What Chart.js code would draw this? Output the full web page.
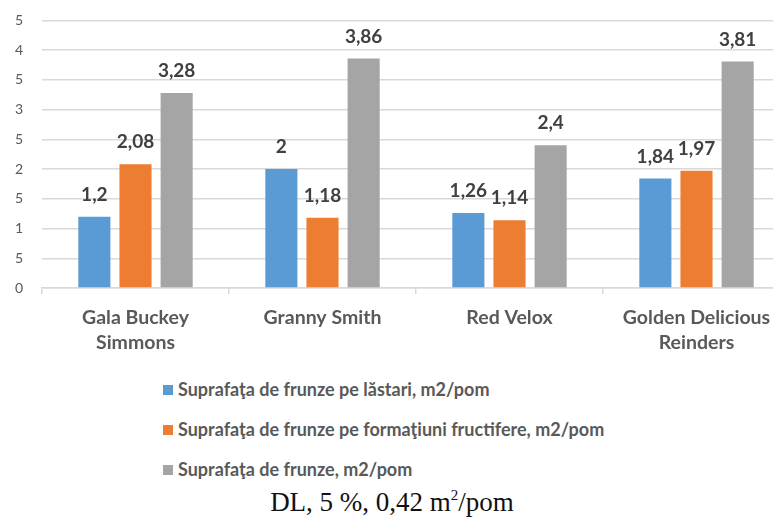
<!DOCTYPE html>
<html>
<head>
<meta charset="utf-8">
<script src="https://cdn.jsdelivr.net/npm/chart.js@4"></script>
<style>
  html, body { margin: 0; padding: 0; background: #fff; width: 773px; height: 518px; overflow: hidden; position: relative; }
  #wrap { position: absolute; left: 0; top: -7px; width: 800px; height: 363px; }
  #legend { position: absolute; left: 163px; top: 378px; font-family: Lato, "Open Sans", sans-serif; font-size: 18px; font-weight: 700; color: #595959; }
  .item { position: absolute; left: 0; white-space: nowrap; height: 22px; line-height: 22px; }
  .box { display: inline-block; width: 10px; height: 10px; margin-right: 5px; vertical-align: 1px; }
  #note { position: absolute; left: 0; width: 784px; top: 489px; line-height: 27px; text-align: center; font-family: "Liberation Serif", "Times New Roman", serif; font-size: 27px; color: #111; }
  #note sup { font-size: 15px; vertical-align: 11px; line-height: 0; }
</style>
</head>
<body>
<div id="wrap"><canvas id="c"></canvas></div>
<div id="legend"></div>
<div id="note">DL, 5 %, 0,42 m<sup>2</sup>/pom</div>
<script>
const categories = [["Gala Buckey", "Simmons"], ["Granny Smith"], ["Red Velox"], ["Golden Delicious", "Reinders"]];
const seriesNames = [
  "Suprafaţa de frunze pe lăstari, m2/pom",
  "Suprafaţa de frunze pe formaţiuni fructifere, m2/pom",
  "Suprafaţa de frunze, m2/pom"
];
const lastari = [1.2, 2, 1.26, 1.84];
const formatiuni = [2.08, 1.18, 1.14, 1.97];
const totalFrunze = [3.28, 3.86, 2.4, 3.81];
const yTickLabels = ["0", "5", "1", "5", "2", "5", "3", "5", "4", "5"];
const seriesColors = ["#5B9BD5", "#ED7D31", "#A5A5A5"];

const seriesData = [lastari, formatiuni, totalFrunze];

const dataLabels = {
  id: 'dataLabels',
  afterDatasetsDraw(chart) {
    const ctx = chart.ctx;
    ctx.save();
    ctx.font = 'bold 19px Lato, "Open Sans", sans-serif';
    ctx.fillStyle = '#404040';
    ctx.textAlign = 'center';
    ctx.textBaseline = 'middle';
    chart.data.datasets.forEach((ds, di) => {
      const meta = chart.getDatasetMeta(di);
      meta.data.forEach((el, i) => {
        const txt = String(ds.data[i]).replace('.', ',');
        ctx.fillText(txt, el.x, el.y - 22);
      });
    });
    ctx.restore();
  }
};

const chart = new Chart(document.getElementById('c'), {
  type: 'bar',
  data: {
    labels: categories,
    datasets: seriesData.map((d, i) => ({
      label: seriesNames[i],
      data: d,
      backgroundColor: seriesColors[i],
      borderWidth: 0,
      categoryPercentage: 0.66,
      barPercentage: 0.78
    }))
  },
  options: {
    responsive: true,
    maintainAspectRatio: false,
    animation: false,
    layout: { autoPadding: false, padding: { top: 4, right: 10, left: 0, bottom: 0 } },
    plugins: { legend: { display: false }, tooltip: { enabled: false } },
    scales: {
      x: {
        offset: true,
        grid: { offset: true, drawOnChartArea: false, drawTicks: true, tickLength: 6, color: '#D9D9D9', lineWidth: 1.5 },
        border: { display: true, color: '#D9D9D9', width: 1.5 },
        ticks: { color: '#595959', padding: 11, maxRotation: 0, autoSkip: false, font: { family: 'Lato, "Open Sans", sans-serif', size: 19.5, weight: 'bold', lineHeight: 1.28 } },
        afterFit(s) { s.height = 68; }
      },
      y: {
        min: 0, max: 4.5,
        ticks: { stepSize: 0.5, padding: 19, color: '#595959', font: { family: 'Lato, "Open Sans", sans-serif', size: 14 },
          callback: (v, i) => yTickLabels[i] },
        grid: { color: '#D9D9D9', lineWidth: 1.5, drawTicks: false },
        border: { display: false },
        afterFit(s) { s.width = 42; }
      }
    }
  },
  plugins: [dataLabels]
});

const legend = document.getElementById('legend');
seriesNames.forEach((name, i) => {
  const row = document.createElement('div');
  row.className = 'item';
  row.style.top = (i * 40) + 'px';
  const box = document.createElement('span');
  box.className = 'box';
  box.style.background = seriesColors[i];
  row.appendChild(box);
  row.appendChild(document.createTextNode(name));
  legend.appendChild(row);
});
</script>
</body>
</html>
